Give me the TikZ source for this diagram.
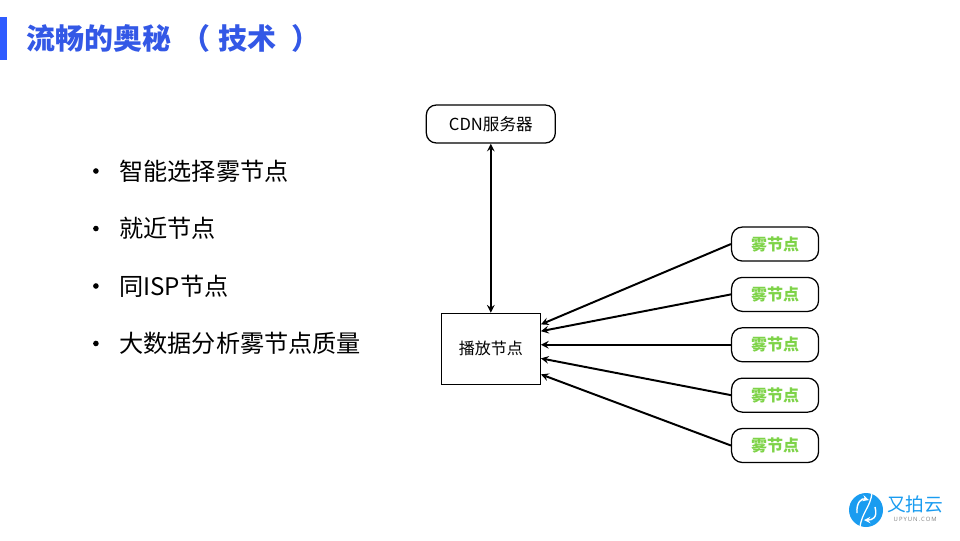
\documentclass[tikz,border=0pt]{standalone}
\usepackage{fontspec}
\usepackage{xcolor}
\usepackage{tikz}
\usetikzlibrary{positioning}
\setmainfont{Noto Sans CJK SC}
\setsansfont{Open Sans}
\definecolor{titleblue}{HTML}{3358E6}
\definecolor{barblue}{HTML}{2F5CFF}
\definecolor{foggreen}{HTML}{7ED348}
\definecolor{logoblue}{HTML}{1A9CF0}
\newcommand{\fs}[1]{\fontsize{#1}{#1}\selectfont}

\begin{document}
\begin{tikzpicture}[>=stealth, every node/.style={align=center, inner sep=0pt},
    box/.style={draw, line width=0.9pt, font=\fs{11.4pt}},
    foghub/.style={box, rounded corners=0.27cm, minimum width=2.175cm, minimum height=0.85cm, font=\fs{11.4pt}\bfseries, text=foggreen},
    point/.style={anchor=west, font=\fs{17.2pt}, text width=8cm, align=left},
    pointdot/.style={circle, fill=black, minimum size=0.14cm},
    link/.style={<-, line width=1.4pt}]
  \useasboundingbox (0,0) rectangle (24,-13.5);
  \fill[barblue] (0,-0.43) rectangle (0.18,-1.5);
  \node[anchor=west, font=\fs{20.6pt}\bfseries, text=titleblue] (title) at (0.65,-0.95) {流畅的奥秘\hspace{0.35em}（\hspace{0.3em}技术\hspace{0.5em}）};

  \node[point] (p1) at (2.975,-4.275) {智能选择雾节点};
  \node[point, below=0.865cm of p1] (p2) {就近节点};
  \node[point, below=0.865cm of p2] (p3) {同ISP节点};
  \node[point, below=0.865cm of p3] (p4) {大数据分析雾节点质量};
  \node[pointdot, left=0.5cm of p1] (d1) {};
  \node[pointdot, left=0.5cm of p2] (d2) {};
  \node[pointdot, left=0.5cm of p3] (d3) {};
  \node[pointdot, left=0.5cm of p4] (d4) {};

  \node[box, rounded corners=0.25cm, minimum width=3.225cm, minimum height=0.95cm, font=\fs{11.8pt}] (cdn) at (12.27,-3.1) {CDN服务器};
  \node[box, below=4.225cm of cdn, minimum width=2.475cm, minimum height=1.775cm] (play) {播放节点};
  \node[foghub, right=4.75cm of play, yshift=0.1cm] (fog3) {雾节点};
  \node[foghub, above=0.3775cm of fog3] (fog2) {雾节点};
  \node[foghub, above=0.3775cm of fog2] (fog1) {雾节点};
  \node[foghub, below=0.3775cm of fog3] (fog4) {雾节点};
  \node[foghub, below=0.3775cm of fog4] (fog5) {雾节点};

  \draw[<->, line width=1.4pt] (cdn) -- (play);
  \draw[link] ([yshift=0.61cm]play.east) -- (fog1.west);
  \draw[link] ([yshift=0.44cm]play.east) -- (fog2.west);
  \draw[link] ([yshift=0.1cm]play.east) -- (fog3.west);
  \draw[link] ([yshift=-0.24cm]play.east) -- (fog4.west);
  \draw[link] ([yshift=-0.64cm]play.east) -- (fog5.west);

  % logo
  \node[circle, fill=logoblue, minimum size=0.85cm] (logo) at (21.65,-12.75) {};
  \draw[white, line width=0.9pt] (21.8,-12.325) .. controls (21.75,-12.7) and (21.55,-12.8) .. (21.5,-13.175);
  \draw[white, line width=1pt, ->] (21.425,-12.825) .. controls (21.4,-12.55) and (21.55,-12.45) .. (21.72,-12.5);
  \draw[white, line width=1pt, ->] (21.875,-12.675) .. controls (21.95,-12.95) and (21.8,-13.0) .. (21.6,-13.0);
  \node[right=0.09cm of logo, yshift=0.13cm, font=\fs{13.3pt}, text=logoblue] (brand) {又拍云};
  \node[below=0.07cm of brand, font=\sffamily\fs{4.2pt}, text=gray] (domain) {U\,P\,Y\,U\,N\,.\,C\,O\,M};
\end{tikzpicture}
\end{document}
